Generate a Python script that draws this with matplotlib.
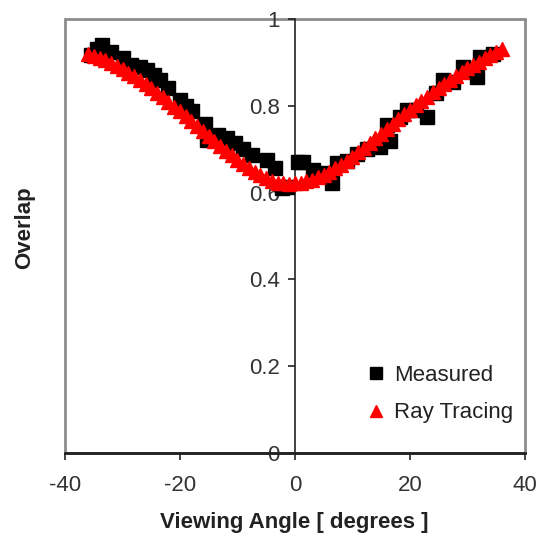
import matplotlib
matplotlib.use("Agg")
import matplotlib.pyplot as plt
from matplotlib.patches import Rectangle

plt.rcParams['font.family'] = ['Liberation Sans', 'DejaVu Sans']
plt.rcParams['axes.unicode_minus'] = False

# measured overlap (black squares)
meas_angle = [-35.5, -34.5, -33.5, -32.0, -30.0, -28.5, -27.0, -25.7, -24.5, -23.5,
              -22.0, -20.0, -19.0, -17.9, -15.7, -15.3, -13.4, -11.8, -10.4, -9.0,
              -7.5, -4.9, -3.5, -2.3, -1.4, 0.5, 1.4, 3.1, 5.0, 6.4,
              7.3, 9.0, 10.8, 12.5, 14.8, 16.0, 16.5, 18.3, 19.5, 21.0,
              23.0, 24.5, 25.7, 27.5, 29.2, 30.5, 31.7, 32.2, 34.4]
meas_overlap = [0.918, 0.932, 0.940, 0.925, 0.910, 0.895, 0.890, 0.883, 0.870, 0.860,
                0.840, 0.813, 0.800, 0.788, 0.758, 0.721, 0.733, 0.725, 0.714, 0.700,
                0.687, 0.675, 0.657, 0.610, 0.613, 0.670, 0.670, 0.652, 0.645, 0.622,
                0.668, 0.672, 0.690, 0.700, 0.705, 0.756, 0.720, 0.774, 0.790, 0.790,
                0.774, 0.830, 0.860, 0.855, 0.890, 0.880, 0.866, 0.912, 0.920]

# ray tracing overlap (red triangles)
ray_angle = [-36, -35, -34, -33, -32, -31, -30, -29, -28, -27, -26, -25, -24, -23,
             -22, -21, -20, -19, -18, -17, -16, -15, -14, -13, -12, -11, -10, -9,
             -8, -7, -6, -5, -4, -3, -2, -1, 0, 1, 2, 3, 4, 5, 6, 7, 8, 9, 10,
             11, 12, 13, 14, 15, 16, 17, 18, 19, 20, 21, 22, 23, 24, 25, 26, 27,
             28, 29, 30, 31, 32, 33, 34, 35, 36]
ray_overlap = [0.920, 0.915, 0.910, 0.905, 0.898, 0.891, 0.884, 0.876, 0.868, 0.859,
               0.850, 0.840, 0.830, 0.820, 0.809, 0.798, 0.787, 0.776, 0.765, 0.753,
               0.742, 0.730, 0.719, 0.707, 0.696, 0.686, 0.676, 0.666, 0.656, 0.647,
               0.640, 0.633, 0.627, 0.623, 0.621, 0.620, 0.621, 0.623, 0.626, 0.630,
               0.635, 0.641, 0.648, 0.656, 0.664, 0.673, 0.683, 0.693, 0.703, 0.714,
               0.725, 0.736, 0.747, 0.758, 0.769, 0.780, 0.791, 0.801, 0.811, 0.821,
               0.831, 0.841, 0.851, 0.860, 0.869, 0.878, 0.886, 0.894, 0.902, 0.910,
               0.917, 0.924, 0.931]

x_ticks = [-40, -20, 0, 20, 40]
y_ticks = [0, 0.2, 0.4, 0.6, 0.8, 1]
y_ticklabels = ['0', '0.2', '0.4', '0.6', '0.8', '1']

fig = plt.figure(figsize=(5.39, 5.43), dpi=100)
ax = fig.add_axes([0.1206, 0.1657, 0.8534, 0.7993])

ax.plot(meas_angle, meas_overlap, 's', color='black', ms=10, mec='black',
        label='Measured', zorder=3)
ax.plot(ray_angle, ray_overlap, '^', color='red', ms=10, mec='red',
        label='Ray Tracing', zorder=4)

ax.set_xlim(-40, 40)
ax.set_ylim(0, 1)

# grey frame, axes crossing at x = 0
ax.add_patch(Rectangle((0, 0), 1, 1, transform=ax.transAxes, fill=False,
                       ec='#8c8c8c', lw=2, zorder=1, clip_on=False))
for s in ['top', 'right']:
    ax.spines[s].set_visible(False)
ax.spines['left'].set_position(('data', 0))
ax.spines['left'].set_color('#222222')
ax.spines['left'].set_linewidth(1.2)
ax.spines['bottom'].set_color('#222222')
ax.spines['bottom'].set_linewidth(2)
ax.spines['bottom'].set_zorder(2)

ax.set_xticks(x_ticks)
ax.set_yticks(y_ticks)
ax.set_yticklabels(y_ticklabels)
ax.tick_params(axis='x', direction='out', length=5, width=1.2, pad=11,
               labelsize=16, labelcolor='#333333', color='#222222')
ax.tick_params(axis='y', direction='out', length=5, width=1.2, pad=6,
               labelsize=16, labelcolor='#333333', color='#222222')

fig.text(0.046, 0.58, 'Overlap', rotation=90, ha='center', va='center',
         fontsize=16, fontweight='bold', color='#222222')
fig.text(0.545, 0.037, 'Viewing Angle [ degrees ]', ha='center', va='center',
         fontsize=16, fontweight='bold', color='#222222')

ax.legend(loc='lower right', bbox_to_anchor=(1.018, 0.022), frameon=False,
          fontsize=16, handlelength=0.8, handletextpad=0.4, labelspacing=0.75,
          markerscale=0.85, labelcolor='#222222')

fig.savefig('out.png', dpi=100)
